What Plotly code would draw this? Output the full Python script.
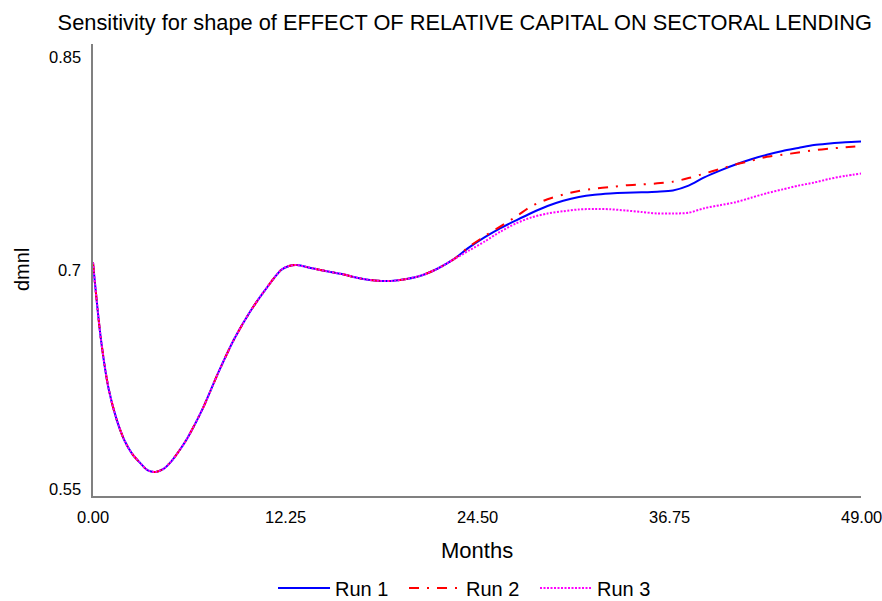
import plotly.graph_objects as go

# Simulation time axis (months)
months = [0, 0.5, 1, 1.5, 2, 2.5, 3, 3.5, 4, 4.5, 5, 5.5, 6, 7, 8, 9, 10, 11, 12, 12.5,
          13, 14, 15, 16, 17, 18, 19, 20, 21, 22, 23, 24, 25, 26, 27, 28, 29, 30,
          31, 32, 33, 34, 35, 36, 37, 38, 39, 40, 41, 42, 43, 44, 45, 46, 47, 48, 49]

# Shared trajectory before the runs separate (months 0..23)
common = [0.705, 0.6545, 0.621, 0.601, 0.587, 0.578, 0.572, 0.567, 0.566, 0.568, 0.573,
          0.580, 0.588, 0.608, 0.632, 0.654, 0.672, 0.687, 0.700, 0.7027, 0.7033, 0.7011,
          0.699, 0.697, 0.6945, 0.693, 0.6927, 0.694, 0.6965, 0.701, 0.707]

run1_tail = [0.715, 0.7218, 0.7278, 0.733, 0.738, 0.7425, 0.746, 0.7485, 0.750, 0.7508,
             0.7513, 0.7516, 0.752, 0.7528, 0.756, 0.7615, 0.766, 0.770, 0.7735, 0.7765,
             0.779, 0.781, 0.783, 0.784, 0.7848, 0.7853]
run2_tail = [0.7155, 0.7225, 0.729, 0.7355, 0.7425, 0.747, 0.750, 0.7525, 0.754, 0.755,
             0.7562, 0.7568, 0.7575, 0.7586, 0.761, 0.764, 0.767, 0.770, 0.7725, 0.7752,
             0.7765, 0.778, 0.7795, 0.7805, 0.7815, 0.7823]
run3_tail = [0.713, 0.719, 0.7255, 0.731, 0.735, 0.7375, 0.739, 0.7402, 0.7405, 0.7403,
             0.7395, 0.7385, 0.7375, 0.7375, 0.738, 0.741, 0.743, 0.745, 0.748, 0.751,
             0.7535, 0.756, 0.758, 0.7605, 0.7625, 0.764]

run1 = common + run1_tail
run2 = common + run2_tail
run3 = common + run3_tail

x_ticks = [0.0, 12.25, 24.5, 36.75, 49.0]
x_tick_text = ["0.00", "12.25", "24.50", "36.75", "49.00"]
y_ticks = [0.55, 0.7, 0.85]
y_tick_text = ["0.55", "0.7", "0.85"]
y_tick_shift = [7, 0, -13]

FONT = "Liberation Sans, Arial, sans-serif"

fig = go.Figure()
series = [
    ("Run 1", run1, "#0000FF", "solid"),
    ("Run 2", run2, "#FF0000", "10px,8px,2px,8px"),
    ("Run 3", run3, "#FF00FF", "2px,1.5px"),
]
for name, vals, color, dash in series:
    fig.add_trace(go.Scatter(
        x=months, y=vals, mode="lines", name=name,
        line=dict(color=color, width=2, dash=dash, shape="spline", smoothing=0.8),
    ))

annotations = []
for v, t in zip(x_ticks, x_tick_text):
    annotations.append(dict(x=v, y=0, xref="x", yref="paper", text=t, showarrow=False,
                            xanchor="center", yanchor="middle", yshift=-21,
                            font=dict(size=16.5, color="#000000", family=FONT)))
for v, t, s in zip(y_ticks, y_tick_text, y_tick_shift):
    annotations.append(dict(x=0, y=v, xref="paper", yref="y", text=t, showarrow=False,
                            xanchor="right", yanchor="middle", xshift=-10, yshift=s,
                            font=dict(size=16.5, color="#000000", family=FONT)))
annotations.append(dict(x=0.5, y=0, xref="paper", yref="paper", text="Months",
                        showarrow=False, xanchor="center", yanchor="middle", yshift=-54,
                        font=dict(size=22, color="#000000", family=FONT)))
annotations.append(dict(x=0, y=0.5, xref="paper", yref="paper", text="dmnl",
                        showarrow=False, xanchor="center", yanchor="middle", xshift=-71,
                        textangle=-90, font=dict(size=20, color="#000000", family=FONT)))

fig.update_layout(
    width=882, height=601,
    margin=dict(l=93, r=21, t=44, b=105, autoexpand=False),
    paper_bgcolor="white", plot_bgcolor="white",
    font=dict(family=FONT, color="#000000"),
    title=dict(text="Sensitivity for shape of EFFECT OF RELATIVE CAPITAL ON SECTORAL LENDING",
               x=0.527, xanchor="center", y=0.963, yanchor="middle",
               font=dict(size=21.8, color="#000000", family=FONT)),
    xaxis=dict(range=[0, 49], showgrid=False, zeroline=False, showticklabels=False,
               ticks="", showline=True, linecolor="#808080", linewidth=2),
    yaxis=dict(range=[0.55, 0.85], showgrid=False, zeroline=False, showticklabels=False,
               ticks="", showline=True, linecolor="#808080", linewidth=2),
    showlegend=True,
    legend=dict(orientation="h", x=0.2344, xanchor="left", y=-0.2035, yanchor="middle",
                font=dict(size=20, color="#000000", family=FONT), itemwidth=52,
                entrywidth=64, bgcolor="rgba(0,0,0,0)"),
    annotations=annotations,
)

fig.write_html("out.html")
